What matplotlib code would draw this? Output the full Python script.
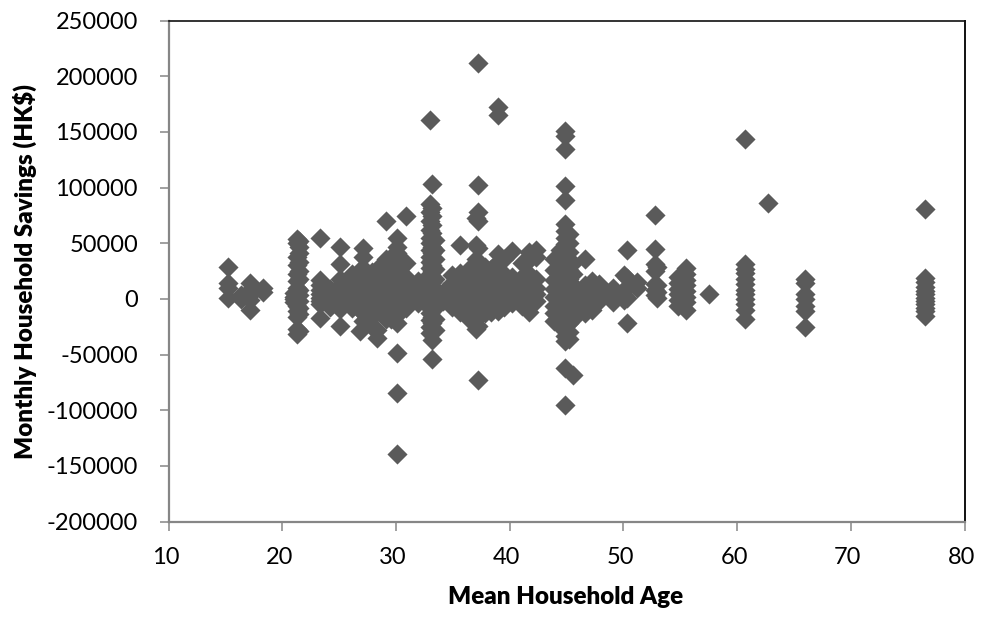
import matplotlib
matplotlib.use("Agg")
import matplotlib.pyplot as plt
from matplotlib.transforms import ScaledTranslation

plt.rcParams['font.family'] = ['Lato', 'DejaVu Sans']
plt.rcParams['axes.unicode_minus'] = False

# (age, savings values observed at that age)
col_15 = (15.2, [29000, 14000, 10000, 1000])
col_17a = (16.4, [3000, 0])
col_17b = (17.2, [14000, 8000, 3000, -1000, -10000])
col_18 = (18.3, [10000, 6000])
col_21a = (21.0, [5000, 2000, 0, -3000])
col_21b = (21.3, [54000, 50000, 38000, 30000, 22000, 16000, 10000, 6000, -6000, -11000, -16000, -27000, -32000])
col_21c = (21.5, [52000, 47000, 41000, 33000, 25000, 18000, 8000, 3000, -2000, -8000, -14000, -29000])
col_23 = (23.3, [55000, 17000, 12000, 8000, 4000, 1000, -2000, -5000, -17000])
col_24 = (24.2, [9000, 5000, 1000, -3000, -7000])
col_25 = (25.1, [47000, 31000, 18000, 12000, 8000, 3000, 0, -5000, -9000, -24000])
col_26 = (26.1, [22000, 15000, 10000, 6000, 2000, -3000, -8000])
col_27a = (26.8, [26000, 18000, 12000, 7000, 2000, -4000, -10000, -29000])
col_27b = (27.1, [46000, 38000, 28000, 19000, 11000, 5000, 0, -6000, -13000, -20000])
col_28a = (27.9, [24000, 16000, 10000, 5000, 0, -6000, -15000, -25000])
col_28b = (28.3, [27000, 19000, 12000, 6000, 1000, -5000, -12000, -35000, -28000])
col_29a = (29.1, [70000, 36000, 27000, 20000, 14000, 8000, 3000, -3000, -10000, -18000])
col_29b = (29.6, [38000, 28000, 20000, 12000, 5000, -2000, -9000, -18000])
col_30a = (30.1, [55000, 47000, 41000, 33000, 26000, 20000, 14000, 8000, 3000, -3000, -8000, -14000, -22000, -49000, -85000, -139000])
col_30b = (30.4, [32000, 22000, 14000, 6000, 0, -6000, -12000])
col_31 = (30.9, [74000, 32000, 20000, 12000, 6000, 2000, -3000, -8000])
col_32 = (31.9, [16000, 9000, 4000, 0, -4000])
col_33a = (33.0, [161000, 85000, 78000, 70000, 62000, 55000, 50000, 44000, 38000, 33000, 28000, 22000, 17000, 12000, 7000, 2000, -3000, -8000, -13000, -19000, -25000, -31000])
col_33b = (33.2, [103000, 82000, 74000, 66000, 59000, 52000, 47000, 41000, 35000, 30000, 25000, 20000, 15000, 10000, 5000, 0, -5000, -10000, -16000, -22000, -37000, -54000])
col_33c = (33.4, [53000, 44000, 36000, 27000, 18000, 9000, 0, -8000, -18000, -28000])
col_34 = (34.1, [6000, 2000, -2000])
col_35a = (34.9, [21000, 14000, 8000, 3000, -2000, -7000])
col_35b = (35.6, [48000, 23000, 15000, 9000, 4000, -1000, -6000, -12000])
col_36 = (36.3, [26000, 17000, 10000, 4000, -2000, -8000, -17000])
col_37a = (37.0, [73000, 48000, 36000, 26000, 17000, 10000, 4000, -2000, -9000, -18000, -27000])
col_37b = (37.2, [212000, 102000, 78000, 70000, 46000, 31000, 21000, 13000, 6000, 0, -6000, -14000, -24000, -73000])
col_38a = (37.8, [29000, 20000, 12000, 5000, -1000, -7000, -13000])
col_38b = (38.4, [27000, 17000, 9000, 2000, -5000, -12000])
col_39a = (39.0, [172000, 165000, 40000, 33000, 24000, 15000, 8000, 2000, -5000, -11000])
col_39b = (39.5, [36000, 22000, 12000, 6000, 0, -7000])
col_40 = (40.2, [43000, 20000, 12000, 7000, 2000, -4000])
col_41 = (41.1, [32000, 20000, 12000, 6000, 0, -6000])
col_42a = (41.7, [42000, 35000, 22000, 12000, 6000, 0, -5000, -12000])
col_42b = (42.3, [44000, 38000, 18000, 10000, 4000, -2000])
col_44a = (43.9, [36000, 26000, 17000, 9000, 2000, -6000, -13000, -20000])
col_44b = (44.4, [44000, 34000, 25000, 16000, 8000, 0, -8000, -16000, -24000])
col_45a = (44.9, [151000, 146000, 135000, 101000, 89000, 67000, 61000, 55000, 49000, 43000, 38000, 33000, 28000, 23000, 18000, 13000, 8000, 3000, -2000, -7000, -12000, -17000, -22000, -27000, -33000, -38000, -62000, -95000])
col_45b = (45.2, [58000, 50000, 42000, 34000, 26000, 18000, 10000, 2000, -6000, -14000, -22000, -30000, -36000])
col_45c = (45.6, [32000, 22000, 12000, 2000, -8000, -18000, -68000])
col_46 = (46.6, [36000, 12000, 7000, 2000, -3000, -8000, -13000])
col_47 = (47.2, [16000, 10000, 5000, 0, -5000, -10000])
col_48 = (47.9, [13000, 8000, 3000, -2000])
col_49 = (49.1, [10000, 5000, 0, -3000])
col_50a = (50.1, [21000, 8000, 3000, -1000])
col_50b = (50.3, [44000, 19000, 11000, 1000, -22000])
col_51 = (51.2, [15000, 10000])
col_53a = (52.8, [75000, 45000, 31000, 25000, 13000, 8000, 3000])
col_53b = (53.0, [29000, 12000, 6000, 1000])
col_55a = (54.8, [20000, 14000, 9000, 4000, -1000, -6000])
col_55b = (55.5, [28000, 22000, 17000, 12000, 7000, 2000, -3000, -10000])
col_57 = (57.5, [4000])
col_60 = (60.7, [144000, 31000, 27000, 23000, 18000, 13000, 8000, 4000, 0, -5000, -10000, -18000])
col_62 = (62.7, [86000])
col_66 = (66.0, [18000, 14000, 4000, 0, -6000, -11000, -25000])
col_76 = (76.5, [81000, 19000, 15000, 11000, 7000, 4000, 1000, -2000, -5000, -8000, -11000, -15000])

columns = [col_15, col_17a, col_17b, col_18, col_21a, col_21b, col_21c, col_23, col_24, col_25,
           col_26, col_27a, col_27b, col_28a, col_28b, col_29a, col_29b, col_30a, col_30b, col_31,
           col_32, col_33a, col_33b, col_33c, col_34, col_35a, col_35b, col_36, col_37a, col_37b,
           col_38a, col_38b, col_39a, col_39b, col_40, col_41, col_42a, col_42b, col_44a, col_44b,
           col_45a, col_45b, col_45c, col_46, col_47, col_48, col_49, col_50a, col_50b, col_51,
           col_53a, col_53b, col_55a, col_55b, col_57, col_60, col_62, col_66, col_76]

ages = [c[0] for c in columns for _ in c[1]]
savings = [v for c in columns for v in c[1]]

W, H = 981, 617
fig = plt.figure(figsize=(W / 100, H / 100), dpi=100)
ax = fig.add_axes([168.5 / W, 1 - 521.5 / H, (964.5 - 168.5) / W, 501 / H])

ax.scatter(ages, savings, marker='D', s=105, color='#5a5a5a', linewidths=0, clip_on=False, zorder=3)

ax.set_xlim(10, 80)
ax.set_ylim(-200000, 250000)
ax.set_xticks(range(10, 81, 10))
ax.set_yticks(range(-200000, 250001, 50000))
ax.tick_params(axis='both', which='major', length=6.5, width=1.1, direction='out',
               color='#868686', labelcolor='black', labelsize=17)
ax.tick_params(axis='y', pad=15.5)
ax.tick_params(axis='x', pad=12)
shift = ScaledTranslation(-3 / 100, 0, fig.dpi_scale_trans)
for lab in ax.get_xticklabels():
    lab.set_transform(lab.get_transform() + shift)

for side, col, lw in [('left', '#868686', 1.6), ('bottom', '#868686', 1.6),
                      ('top', '#111111', 1.2), ('right', '#111111', 1.4)]:
    ax.spines[side].set_color(col)
    ax.spines[side].set_linewidth(lw)

ax.set_xlabel('Mean Household Age', fontsize=17.4, fontweight='heavy', va='center')
ax.set_ylabel('Monthly Household Savings (HK$)', fontsize=17.4, fontweight='heavy', va='center')
ax.xaxis.set_label_coords(565.5 / W, 1 - 597 / H, transform=fig.transFigure)
ax.yaxis.set_label_coords(25 / W, 1 - 271.5 / H, transform=fig.transFigure)

fig.savefig('out.png', dpi=100, facecolor='white')
